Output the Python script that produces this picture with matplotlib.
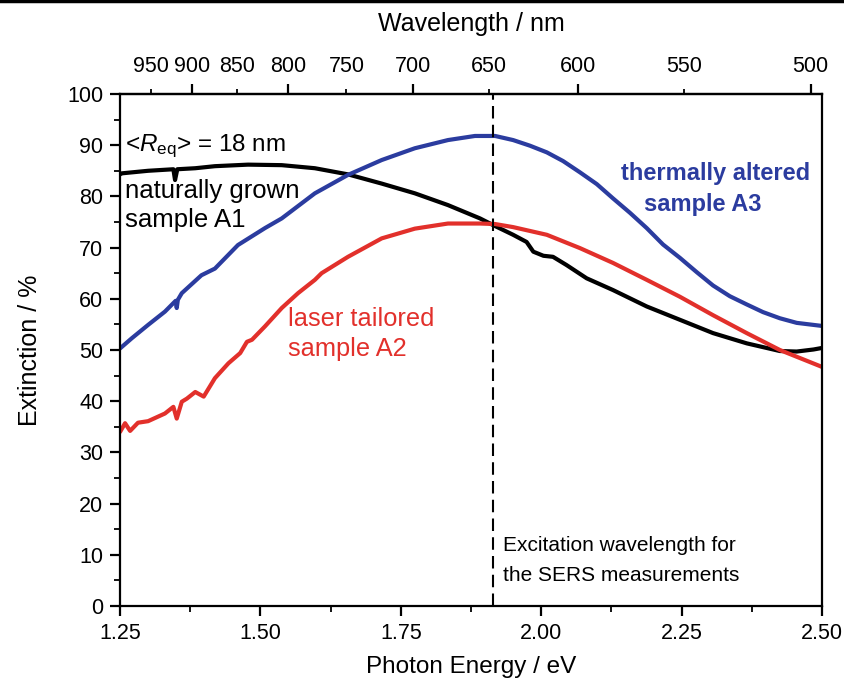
import numpy as np
import matplotlib
matplotlib.use("Agg")
import matplotlib.pyplot as plt
from matplotlib.ticker import FixedLocator, FixedFormatter

plt.rcParams['font.family'] = ['Liberation Sans', 'DejaVu Sans']
plt.rcParams['mathtext.fontset'] = 'custom'
plt.rcParams['mathtext.rm'] = 'Liberation Sans'
plt.rcParams['mathtext.it'] = 'Liberation Sans:italic'

# photon energy (eV) / extinction (%)
e_a1 = [1.250, 1.253, 1.300, 1.345, 1.348, 1.352, 1.384, 1.419, 1.478, 1.538, 1.597,
        1.656, 1.716, 1.775, 1.834, 1.891, 1.918, 1.950, 1.974, 1.986, 2.004, 2.021,
        2.045, 2.081, 2.128, 2.188, 2.247, 2.306, 2.366, 2.425, 2.455, 2.485, 2.500]
ext_a1 = [84.3, 84.5, 85.0, 85.3, 83.2, 85.3, 85.5, 85.9, 86.2, 86.1, 85.5,
          84.3, 82.5, 80.6, 78.3, 75.7, 74.2, 72.5, 71.1, 69.2, 68.4, 68.2,
          66.6, 64.0, 61.7, 58.5, 55.9, 53.3, 51.3, 49.8, 49.7, 50.1, 50.4]

e_a2 = [1.250, 1.259, 1.268, 1.282, 1.300, 1.330, 1.345, 1.351, 1.360, 1.369, 1.384,
        1.399, 1.419, 1.443, 1.464, 1.476, 1.485, 1.508, 1.538, 1.567, 1.597, 1.609,
        1.656, 1.716, 1.775, 1.834, 1.891, 1.918, 1.950, 2.010, 2.069, 2.128, 2.188,
        2.247, 2.306, 2.366, 2.425, 2.500]
ext_a2 = [34.0, 35.7, 34.2, 35.8, 36.1, 37.6, 38.9, 36.6, 39.9, 40.5, 41.8,
          40.9, 44.5, 47.4, 49.4, 51.6, 52.0, 54.6, 58.2, 61.1, 63.7, 65.0,
          68.2, 71.8, 73.7, 74.7, 74.7, 74.6, 74.0, 72.5, 69.9, 67.0, 63.7,
          60.4, 56.8, 53.3, 50.0, 46.7]

e_a3 = [1.250, 1.271, 1.300, 1.330, 1.349, 1.351, 1.353, 1.360, 1.395, 1.419, 1.460,
        1.508, 1.538, 1.597, 1.656, 1.716, 1.775, 1.834, 1.882, 1.918, 1.950, 1.980,
        2.010, 2.039, 2.069, 2.099, 2.128, 2.158, 2.188, 2.217, 2.247, 2.277, 2.306,
        2.336, 2.366, 2.395, 2.425, 2.455, 2.500]
ext_a3 = [50.3, 52.3, 54.9, 57.5, 59.6, 58.2, 59.8, 61.1, 64.6, 65.9, 70.5,
          73.8, 75.7, 80.6, 84.2, 87.1, 89.4, 91.0, 91.8, 91.8, 91.0, 89.9,
          88.6, 86.9, 84.7, 82.4, 79.6, 76.8, 73.8, 70.6, 68.0, 65.2, 62.6,
          60.5, 58.9, 57.4, 56.2, 55.3, 54.7]

excitation_ev = 1.915
wl_major = [900, 800, 700, 600, 500]
wl_minor = [950, 850, 750, 650, 550]
HC = 1239.84

black = '#000000'
red = '#E2302B'
blue = '#2B3C9F'

fig = plt.figure(figsize=(8.44, 6.85), dpi=100)
ax = fig.add_axes([0.1422, 0.1153, 0.8317, 0.7475])

for e, ext, c in [(e_a1, ext_a1, black), (e_a2, ext_a2, red), (e_a3, ext_a3, blue)]:
    ax.plot(e, ext, color=c, lw=3.0, solid_joinstyle='round', solid_capstyle='round')
ax.axvline(excitation_ev, color='k', lw=1.5, ls=(0, (6, 3)))

ax.set_xlim(1.25, 2.50)
ax.set_ylim(0, 100)
ax.set_xticks([1.25, 1.50, 1.75, 2.00, 2.25, 2.50])
ax.set_xticklabels(['1.25', '1.50', '1.75', '2.00', '2.25', '2.50'])
ax.set_xticks([1.375, 1.625, 1.875, 2.125, 2.375], minor=True)
ax.set_yticks(range(0, 101, 10))
ax.set_yticks(range(5, 100, 10), minor=True)
ax.tick_params(which='major', direction='out', length=7, width=1.6, labelsize=15.5, pad=5)
ax.tick_params(which='minor', direction='out', length=4, width=1.3)
ax.tick_params(top=False, right=False, which='both')
for s in ax.spines.values():
    s.set_linewidth(1.6)

ax.set_xlabel('Photon Energy / eV', fontsize=17.5, labelpad=9)
ax.set_ylabel('Extinction / %', fontsize=18, labelpad=18)

sec = ax.secondary_xaxis('top', functions=(lambda e: HC / np.maximum(e, 1e-6),
                                           lambda w: HC / np.maximum(w, 1e-6)))
sec.xaxis.set_major_locator(FixedLocator(wl_major))
sec.xaxis.set_minor_locator(FixedLocator(wl_minor))
sec.xaxis.set_major_formatter(FixedFormatter([str(w) for w in wl_major]))
sec.xaxis.set_minor_formatter(FixedFormatter([str(w) for w in wl_minor]))
sec.tick_params(which='major', direction='out', length=7, width=1.6, labelsize=15.5, pad=5)
sec.tick_params(which='minor', direction='out', length=3.5, width=1.3, labelsize=15.5, pad=8.5)
sec.spines['top'].set_linewidth(1.6)
sec.set_xlabel('Wavelength / nm', fontsize=18, labelpad=18)

ax.text(1.259, 88.8, r'<$R_{\mathrm{eq}}$> = 18 nm', fontsize=17.5,
        va='baseline', ha='left')
ax.text(1.259, 81.0, 'naturally grown', fontsize=18.5, va='center')
ax.text(1.259, 75.3, 'sample A1', fontsize=18.5, va='center')
ax.text(1.549, 56.0, 'laser tailored', fontsize=18.3, va='center', color=red)
ax.text(1.549, 50.1, 'sample A2', fontsize=18.3, va='center', color=red)
ax.text(2.311, 84.5, 'thermally altered', fontsize=17, fontweight='bold',
        va='center', ha='center', color=blue)
ax.text(2.288, 78.5, 'sample A3', fontsize=17, fontweight='bold',
        va='center', ha='center', color=blue)
ax.text(1.932, 11.9, 'Excitation wavelength for', fontsize=15, va='center')
ax.text(1.932, 5.9, 'the SERS measurements', fontsize=15, va='center')

fig.add_artist(plt.Line2D([0, 1], [0.998, 0.998], color='k', lw=2.5,
                          transform=fig.transFigure))

fig.savefig('out.png', dpi=100)
